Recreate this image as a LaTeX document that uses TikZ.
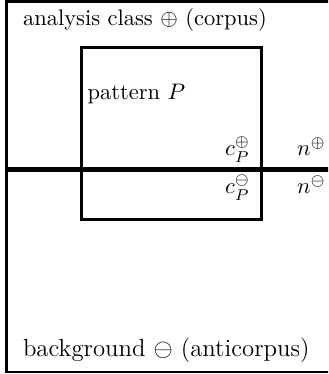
\documentclass[tikz,border=0pt]{standalone}
\begin{document}
\begin{tikzpicture}[x=0.4444pt,y=-0.4444pt,
  frame/.style={draw=black,line width=1.15pt},
  divider/.style={draw=black,line width=2.3pt},
  lbl/.style={inner sep=0pt,outer sep=0pt,font=\normalsize}]
\useasboundingbox (0,0) rectangle (328,374);
\clip (0,0) rectangle (328,374);
% outer box (corpus + anticorpus), right side beyond view
\draw[frame] (6.5,1.5) rectangle (345,372);
% pattern box
\draw[frame] (81.5,47.5) rectangle (261.5,219.5);
% divider between corpus and anticorpus
\coordinate (divL) at (6.5,169.3);
\coordinate (divR) at (345,169.3);
\draw[divider] (divL) -- (divR);
% labels
\node[lbl,anchor=base west] (corpus) at (23,26) {analysis class $\oplus$ (corpus)};
\node[lbl,anchor=base west] (pattern) at (87.5,99.5) {pattern $P$};
\node[lbl,anchor=base east] (cplus) at (250,156) {$c_P^{\oplus}$};
\node[lbl,anchor=base west] (nplus) at (297,156) {$n^{\oplus}$};
\node[lbl,anchor=base east] (cminus) at (250,194) {$c_P^{\ominus}$};
\node[lbl,anchor=base west] (nminus) at (297,194) {$n^{\ominus}$};
\node[lbl,anchor=base west,font=\fontsize{11}{13}\selectfont] (anti) at (23,356.5) {background $\ominus$ (anticorpus)};
\end{tikzpicture}
\end{document}
